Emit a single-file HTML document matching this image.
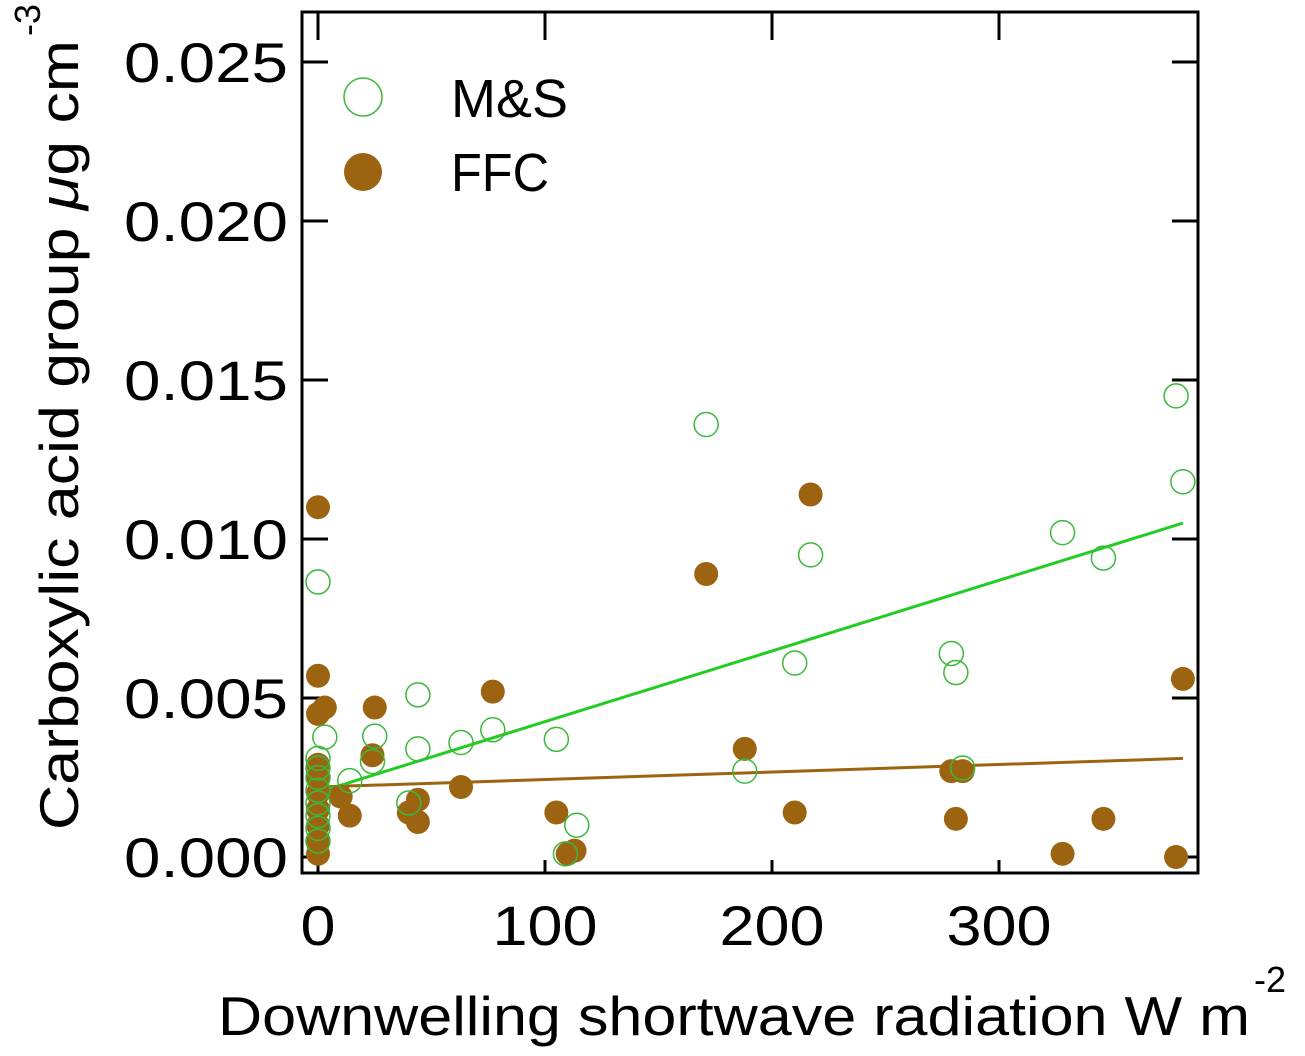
<!DOCTYPE html>
<html><head><meta charset="utf-8"><style>
body{margin:0;background:#fff;}
svg{display:block;font-family:"Liberation Sans","DejaVu Sans",sans-serif;}
</style></head><body>
<svg id="chart" width="1305" height="1056" viewBox="0 0 1305 1056" xmlns="http://www.w3.org/2000/svg">
<rect x="302" y="12" width="896" height="861" fill="none" stroke="#000" stroke-width="3"/>
<g id="ticks"></g>
<g id="lines"></g>
<g id="pts"></g>
<g>
<circle cx="363" cy="97" r="19" fill="none" stroke="#3cb83c" stroke-width="1.5"/>
<text x="451" y="117" font-size="54" textLength="117" lengthAdjust="spacingAndGlyphs">M&amp;S</text>
<circle cx="363" cy="172" r="19" fill="#9c6410"/>
<text x="451" y="191" font-size="54" textLength="98" lengthAdjust="spacingAndGlyphs">FFC</text>
</g>
<text x="218" y="1035" font-size="55" textLength="1032" lengthAdjust="spacingAndGlyphs">Downwelling shortwave radiation  W m</text>
<text x="1254" y="992" font-size="36">-2</text>
<text transform="translate(78,830) rotate(-90)" font-size="55" textLength="790" lengthAdjust="spacingAndGlyphs">Carboxylic acid group  <tspan font-style="italic">μ</tspan>g cm</text>
<text transform="translate(40,36) rotate(-90)" font-size="36">-3</text>
</svg>
<script>
const xTicks=[0,100,200,300];
const yTicks=[0,0.005,0.010,0.015,0.020,0.025];
const yTickLabels=["0.000","0.005","0.010","0.015","0.020","0.025"];
const msX=[0,3,0,0,0,0,0,0,0,0,14,25,24,44,44,40,63,77,105,114,109,171,188,210,217,279,281,284,328,346,378,381];
const msY=[0.00865,0.00377,0.0031,0.0028,0.0025,0.0021,0.0017,0.0013,0.0009,0.0005,0.0024,0.0038,0.0030,0.0051,0.0034,0.0017,0.0036,0.0040,0.0037,0.0010,0.0001,0.0136,0.0027,0.0061,0.0095,0.0064,0.0058,0.0028,0.0102,0.0094,0.0145,0.0118];
const ffcX=[0,0,3,0,0,0,0,0,0,0,0,10,14,25,24,40,44,44,63,77,105,110,113,171,188,210,217,279,281,284,328,346,378,381];
const ffcY=[0.0110,0.0057,0.0047,0.0045,0.0029,0.0025,0.0020,0.0015,0.0010,0.0005,0.0001,0.0019,0.0013,0.0047,0.0032,0.0014,0.0018,0.0011,0.0022,0.0052,0.0014,0.0001,0.0002,0.0089,0.0034,0.0014,0.0114,0.0027,0.0012,0.0027,0.0001,0.0012,0.0000,0.0056];
const msFit=[[3,0.0021],[381,0.0105]];
const ffcFit=[[0,0.0022],[381,0.0031]];
const NS="http://www.w3.org/2000/svg";
const X=v=>318+v*2.27;
const Y=v=>857-v*31800;
function mk(t,a,p){const e=document.createElementNS(NS,t);for(const k in a)e.setAttribute(k,a[k]);p.appendChild(e);return e;}
const tg=document.getElementById('ticks');
xTicks.forEach((t)=>{
 let l=mk('line',{x1:X(t),x2:X(t),y1:873,y2:860,stroke:'#000','stroke-width':3},tg);
 
 
 let l2=mk('line',{x1:X(t),x2:X(t),y1:12,y2:40,stroke:'#000','stroke-width':3},tg);
 
 
 const s=String(t);
 let tx=mk('text',{x:X(t),y:945,'font-size':56,'text-anchor':'middle',textLength:35*s.length,lengthAdjust:'spacingAndGlyphs'},tg);tx.textContent=s;
 
 
});
yTicks.forEach((t,i)=>{
 let l=mk('line',{x1:302,x2:328,y1:Y(t),y2:Y(t),stroke:'#000','stroke-width':3},tg);
 
 
 let l2=mk('line',{x1:1172,x2:1198,y1:Y(t),y2:Y(t),stroke:'#000','stroke-width':3},tg);
 
 
 let tx=mk('text',{x:124,y:Y(t)+20,'font-size':56,textLength:164,lengthAdjust:'spacingAndGlyphs'},tg);tx.textContent=yTickLabels[i];
 
 
});
const pg=document.getElementById('pts');
ffcX.forEach((x,i)=>{
 let c=mk('circle',{cx:X(x),cy:Y(ffcY[i]),r:12,fill:'#9c6410'},pg);
 
 
});
msX.forEach((x,i)=>{
 let c=mk('circle',{cx:X(x),cy:Y(msY[i]),r:12,fill:'none',stroke:'#3cb83c','stroke-width':1.5},pg);
 
 
});
const lg=document.getElementById('lines');
let f1=mk('line',{x1:X(ffcFit[0][0]),y1:Y(ffcFit[0][1]),x2:X(ffcFit[1][0]),y2:Y(ffcFit[1][1]),stroke:'#9c6410','stroke-width':3},lg);


let f2=mk('line',{x1:X(msFit[0][0]),y1:Y(msFit[0][1]),x2:X(msFit[1][0]),y2:Y(msFit[1][1]),stroke:'#22cc22','stroke-width':3},lg);


</script>
</body></html>
